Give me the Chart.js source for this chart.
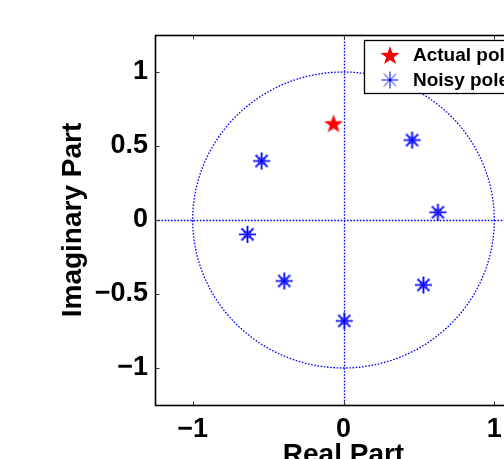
<!DOCTYPE html>
<html><head><meta charset="utf-8">
<style>
html,body{margin:0;padding:0;overflow:hidden;background:#fff;width:504px;height:459px}
#wrap{position:absolute;left:0;top:0;width:560px;height:480px}
</style>
<script src="https://cdn.jsdelivr.net/npm/chart.js@4/dist/chart.umd.min.js"></script>
</head><body>
<div id="wrap"><canvas id="c" width="560" height="480"></canvas></div>
<script>
// ---- data ----
const seriesNames = ['Actual poles', 'Noisy poles'];
const actualRe = [-0.066];
const actualIm = [0.653];
const noisyRe = [-0.543, 0.455, -0.637, 0.626, -0.393, 0.530, 0.005];
const noisyIm = [0.399, 0.540, -0.097, 0.052, -0.412, -0.439, -0.682];
const xTicks = [-1, 0, 1];
const yTicks = [-1, -0.5, 0, 0.5, 1];
const xRange = [-1.25, 1.25];
const yRange = [-1.25, 1.25];
const xTitle = 'Real Part';
const yTitle = 'Imaginary Part';

const FONT = '"Liberation Sans", Arial, Helvetica, sans-serif';
const BLUE = '#0000ff';

function makeStar(r, color) {
  const s = Math.ceil(2 * r + 4);
  const c = document.createElement('canvas');
  c.width = c.height = s;
  const g = c.getContext('2d');
  g.translate(s / 2, s / 2 + r * 0.1);
  g.beginPath();
  for (let i = 0; i < 10; i++) {
    const rr = i % 2 ? r * 0.4 : r;
    const a = -Math.PI / 2 + i * Math.PI / 5;
    g.lineTo(rr * Math.cos(a), rr * Math.sin(a));
  }
  g.closePath();
  g.fillStyle = color;
  g.fill();
  return c;
}
function makeAst(r, color, ring) {
  const s = Math.ceil(2 * r + 4);
  const c = document.createElement('canvas');
  c.width = c.height = s;
  const g = c.getContext('2d');
  g.translate(s / 2, s / 2);
  g.strokeStyle = color;
  g.lineWidth = ring ? 1.2 : 1;
  const rots = ring ? [0, 0.12, -0.12] : [0];
  rots.forEach((rot, k) => {
    g.globalAlpha = k === 0 ? 1 : 0.4;
    g.beginPath();
    for (let i = 0; i < 4; i++) {
      const a = rot + i * Math.PI / 4;
      g.moveTo(-r * Math.cos(a), -r * Math.sin(a));
      g.lineTo(r * Math.cos(a), r * Math.sin(a));
    }
    g.stroke();
  });
  if (ring) {
    g.globalAlpha = 0.7;
    g.beginPath();
    g.arc(0, 0, 3.5, 0, Math.PI * 2);
    g.stroke();
  }
  return c;
}

const starImg = makeStar(10, '#ff0000');
const astImg = makeAst(8.5, BLUE, true);
const astLegend = makeAst(8.5, BLUE, false);

const fmt = v => (v < 0 ? '\u2212' + Math.abs(v) : String(v));

const zplane = {
  id: 'zplane',
  beforeDatasetsDraw(chart) {
    const { ctx, chartArea: a, scales: { x, y } } = chart;
    const cx = x.getPixelForValue(0), cy = y.getPixelForValue(0);
    const rx = x.getPixelForValue(1) - cx, ry = cy - y.getPixelForValue(1);
    ctx.save();
    ctx.beginPath();
    ctx.rect(a.left, a.top, a.right - a.left, a.bottom - a.top);
    ctx.clip();
    ctx.strokeStyle = BLUE;
    ctx.lineWidth = 1.3;
    ctx.setLineDash([1.6, 1.6]);
    ctx.beginPath();
    ctx.ellipse(cx, cy, rx, ry, 0, 0, Math.PI * 2);
    ctx.stroke();
    ctx.beginPath();
    ctx.moveTo(a.left, Math.round(cy) + 0.5);
    ctx.lineTo(a.right, Math.round(cy) + 0.5);
    ctx.moveTo(Math.round(cx) + 0.5, a.top);
    ctx.lineTo(Math.round(cx) + 0.5, a.bottom);
    ctx.stroke();
    ctx.restore();
  },
  afterDatasetsDraw(chart) {
    const { ctx, chartArea: a, scales: { x, y } } = chart;
    ctx.save();
    // axes box
    ctx.strokeStyle = '#000';
    ctx.lineWidth = 1.6;
    const L = Math.round(a.left) + 0.5, T = Math.round(a.top) + 0.5;
    const R = Math.round(a.right) + 0.5, B = Math.round(a.bottom) + 0.5;
    ctx.strokeRect(L, T, R - L, B - T);
    // inward ticks
    ctx.strokeStyle = '#333';
    ctx.lineWidth = 1;
    ctx.beginPath();
    xTicks.forEach(v => {
      const px = Math.round(x.getPixelForValue(v)) + 0.5;
      ctx.moveTo(px, B); ctx.lineTo(px, B - 4);
      ctx.moveTo(px, T); ctx.lineTo(px, T + 4);
    });
    yTicks.forEach(v => {
      const py = Math.round(y.getPixelForValue(v)) + 0.5;
      ctx.moveTo(L, py); ctx.lineTo(L + 4, py);
      ctx.moveTo(R, py); ctx.lineTo(R - 4, py);
    });
    ctx.stroke();
    // legend
    const lx = 364.5, ly = 40.5, lw = 170, lh = 53;
    ctx.fillStyle = '#fff';
    ctx.fillRect(lx, ly, lw, lh);
    ctx.strokeStyle = '#000';
    ctx.lineWidth = 1.3;
    ctx.strokeRect(lx, ly, lw, lh);
    const marks = [starImg, astLegend];
    const rows = [55, 80];
    ctx.font = 'bold 19px ' + FONT;
    ctx.fillStyle = '#000';
    ctx.textBaseline = 'middle';
    ctx.textAlign = 'left';
    chart.data.datasets.forEach((ds, i) => {
      const m = marks[i];
      ctx.drawImage(m, 390 - m.width / 2, rows[i] - m.height / 2);
      ctx.fillText(ds.label, 413, rows[i] + 1);
    });
    ctx.restore();
  }
};

new Chart(document.getElementById('c'), {
  type: 'scatter',
  data: {
    datasets: [
      {
        label: seriesNames[0],
        data: actualRe.map((v, i) => ({ x: v, y: actualIm[i] })),
        pointStyle: starImg,
        pointRadius: 10,
        showLine: false
      },
      {
        label: seriesNames[1],
        data: noisyRe.map((v, i) => ({ x: v, y: noisyIm[i] })),
        pointStyle: astImg,
        pointRadius: 9,
        showLine: false
      }
    ]
  },
  plugins: [zplane],
  options: {
    responsive: false,
    animation: false,
    events: [],
    layout: { padding: { top: 35, right: 28, left: 0, bottom: 0 } },
    plugins: { legend: { display: false }, tooltip: { enabled: false } },
    scales: {
      x: {
        type: 'linear', min: xRange[0], max: xRange[1],
        afterBuildTicks: s => { s.ticks = xTicks.map(v => ({ value: v })); },
        afterFit: s => { s.height = 75; },
        grid: { display: false, drawTicks: false },
        border: { display: false },
        ticks: { padding: 8, color: '#000', maxRotation: 0, autoSkip: false,
          font: { family: FONT, size: 27, weight: 'bold' }, callback: fmt },
        title: { display: true, text: xTitle, color: '#000',
          font: { family: FONT, size: 28, weight: 'bold', lineHeight: 1 },
          padding: { top: 0, bottom: 11 } }
      },
      y: {
        type: 'linear', min: yRange[0], max: yRange[1],
        afterBuildTicks: s => { s.ticks = yTicks.map(v => ({ value: v })); },
        afterFit: s => { s.width = 155; },
        grid: { display: false, drawTicks: false },
        border: { display: false },
        ticks: { padding: 7, color: '#000', autoSkip: false,
          font: { family: FONT, size: 27, weight: 'bold' }, callback: fmt },
        title: { display: true, text: yTitle, color: '#000',
          font: { family: FONT, size: 28, weight: 'bold', lineHeight: 1 },
          padding: { top: 59, bottom: 0 } }
      }
    }
  }
});
</script>
</body></html>
